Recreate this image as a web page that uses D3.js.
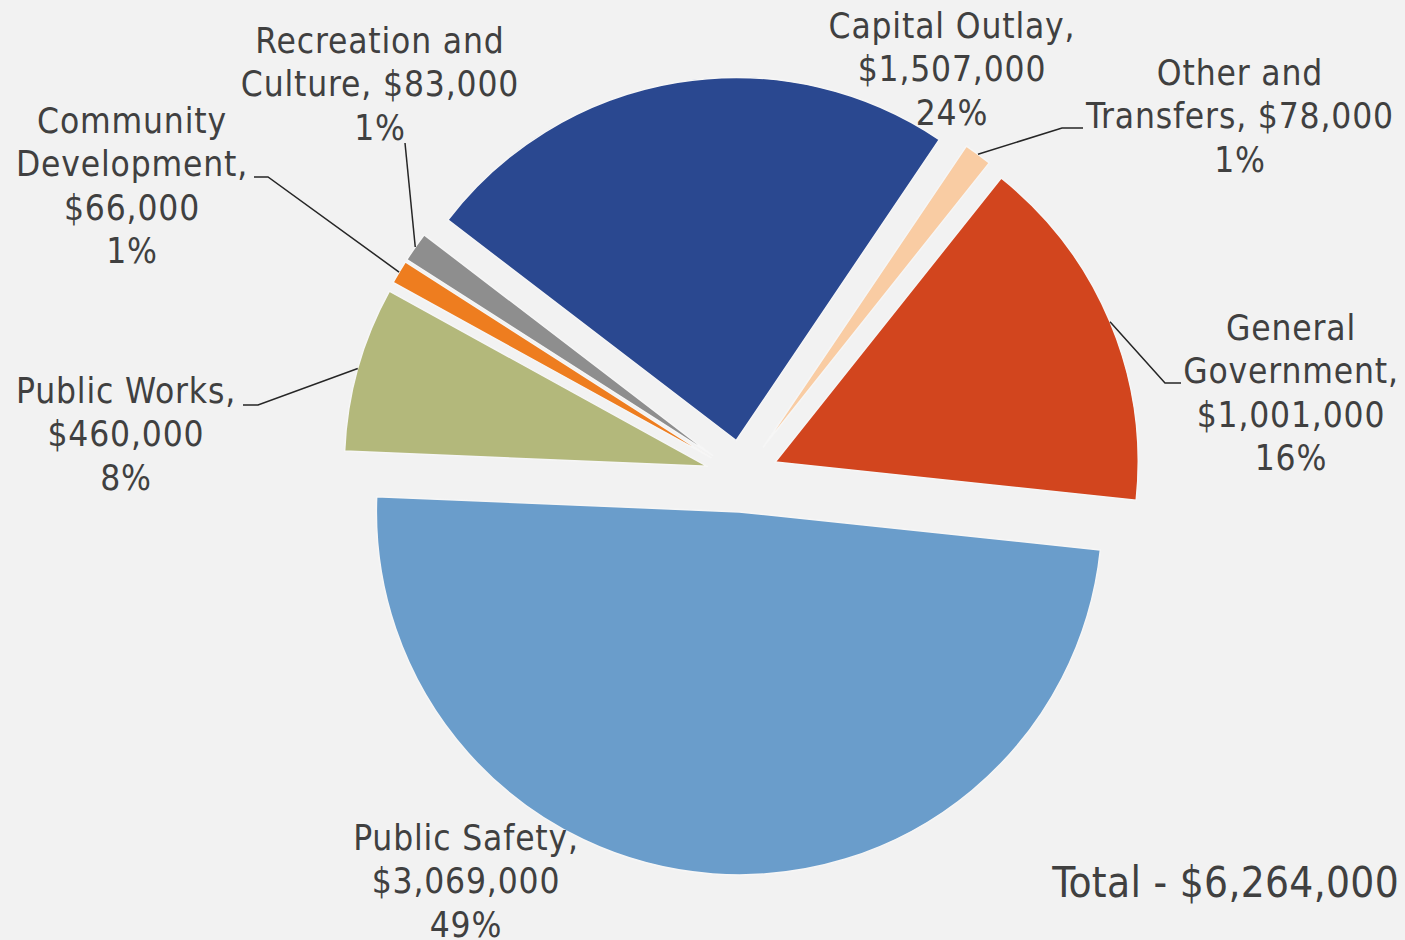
<!DOCTYPE html>
<html>
<head>
<meta charset="utf-8">
<script src="https://cdn.jsdelivr.net/npm/d3@7"></script>
<style>
  html, body { margin: 0; padding: 0; background: #f2f2f2; }
  svg { display: block; }
  text { font-family: "DejaVu Sans Condensed", "DejaVu Sans", sans-serif; font-stretch: condensed; fill: #404040; }
</style>
</head>
<body>
<svg id="chart"></svg>
<script>
// data
const categories = ["General Government", "Public Safety", "Public Works", "Community Development",
  "Recreation and Culture", "Capital Outlay", "Other and Transfers"];
const amounts = [1001000, 3069000, 460000, 66000, 83000, 1507000, 78000];
const percents = [16, 49, 8, 1, 1, 24, 1];
const colors = ["#d2451e", "#6a9dcb", "#b3b87b", "#ee7d1f", "#8e8e8e", "#2a4890", "#f9cca3"];
const totalLabel = "Total - $6,264,000";

const W = 1405, H = 940;
const cx = 742, cy = 476, R = 363, explode = 36;
const firstSliceDeg = 38.5;

// label layout: centre x, first baseline, how the name wraps, leader elbow
const layout = {
  "General Government":     { x: 1291, y: 340, split: 1, inline: false, elbow: [[1165, 383], [1181, 383]] },
  "Public Safety":          { x: 466,  y: 850, split: 0, inline: false, elbow: null },
  "Public Works":           { x: 126,  y: 403, split: 0, inline: false, elbow: [[258, 405], [243, 405]] },
  "Community Development":  { x: 132,  y: 133, split: 1, inline: false, elbow: [[268, 177], [254, 177]] },
  "Recreation and Culture": { x: 380,  y: 53,  split: 2, inline: true,  elbow: [[405, 143]] },
  "Capital Outlay":         { x: 952,  y: 38,  split: 0, inline: false, elbow: null },
  "Other and Transfers":    { x: 1240, y: 85,  split: 2, inline: true,  elbow: [[1062, 128], [1083, 128]] }
};
const lineH = 43.3;

const fmt = d3.format("$,");

const svg = d3.select("#chart").attr("width", W).attr("height", H);
svg.append("rect").attr("width", W).attr("height", H).attr("fill", "#f2f2f2");

const rows = categories.map((c, i) => ({ name: c, value: amounts[i], pct: percents[i], color: colors[i] }));

const start = firstSliceDeg * Math.PI / 180;
const pie = d3.pie().value(d => d.value).sort(null).startAngle(start).endAngle(start + 2 * Math.PI);
const arcs = pie(rows);
const arc = d3.arc().innerRadius(0).outerRadius(R);

// offset of a slice along its mid angle
const shift = (d, r) => {
  const a = (d.startAngle + d.endAngle) / 2;
  return [Math.sin(a) * r, -Math.cos(a) * r];
};

const g = svg.append("g").attr("transform", `translate(${cx},${cy})`);

g.selectAll("path.slice")
  .data(arcs)
  .join("path")
  .attr("class", "slice")
  .attr("transform", d => { const [x, y] = shift(d, explode); return `translate(${x},${y})`; })
  .attr("d", arc)
  .attr("fill", d => d.data.color)
  .attr("stroke", "#f6f6f6")
  .attr("stroke-width", 1.5)
  .attr("stroke-linejoin", "round");

// leader lines from the outer edge of the slice to the label
arcs.forEach(d => {
  const L = layout[d.data.name];
  if (!L.elbow) return;
  const [ax, ay] = shift(d, R + explode);
  const pts = [[cx + ax, cy + ay], ...L.elbow];
  svg.append("path")
    .attr("d", d3.line()(pts))
    .attr("fill", "none")
    .attr("stroke", "#262626")
    .attr("stroke-width", 1.5);
});

// labels
arcs.forEach(d => {
  const L = layout[d.data.name];
  const words = d.data.name.split(" ");
  let lines = L.split
    ? [words.slice(0, L.split).join(" "), words.slice(L.split).join(" ") + ","]
    : [d.data.name + ","];
  const val = fmt(d.data.value);
  if (L.inline) lines[lines.length - 1] += " " + val;
  else lines.push(val);
  lines.push(d.data.pct + "%");

  const t = svg.append("text")
    .attr("text-anchor", "middle")
    .attr("font-size", 35)
    .attr("letter-spacing", 0.85);
  lines.forEach((s, i) => {
    t.append("tspan").attr("x", L.x).attr("y", L.y + i * lineH).text(s);
  });
});

svg.append("text")
  .attr("x", 1399).attr("y", 897)
  .attr("text-anchor", "end")
  .attr("font-size", 42)
  .attr("letter-spacing", 0.3)
  .text(totalLabel);
</script>
</body>
</html>
